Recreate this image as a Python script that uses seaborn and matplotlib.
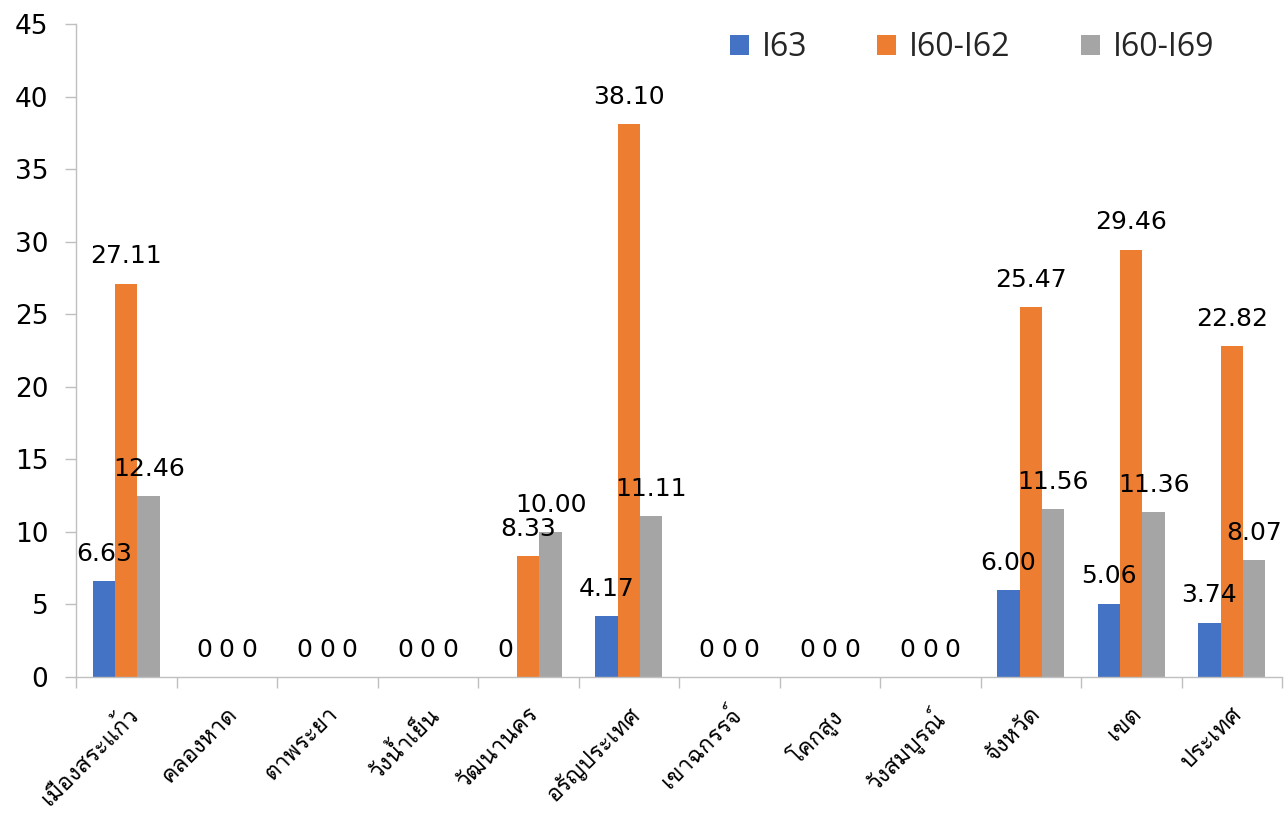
import matplotlib
matplotlib.use("Agg")
import matplotlib.pyplot as plt
from matplotlib import font_manager
from matplotlib.ft2font import FT2Font
import seaborn as sns
import pandas as pd
import numpy as np

categories = ["เมืองสระแก้ว", "คลองหาด", "ตาพระยา", "วังน้ำเย็น", "วัฒนานคร", "อรัญประเทศ",
              "เขาฉกรรจ์", "โคกสูง", "วังสมบูรณ์", "จังหวัด", "เขต", "ประเทศ"]
series_names = ["I63", "I60-I62", "I60-I69"]
i63 = [6.63, 0, 0, 0, 0, 4.17, 0, 0, 0, 6.00, 5.06, 3.74]
i60_i62 = [27.11, 0, 0, 0, 8.33, 38.10, 0, 0, 0, 25.47, 29.46, 22.82]
i60_i69 = [12.46, 0, 0, 0, 10.00, 11.11, 0, 0, 0, 11.56, 11.36, 8.07]
colors = ["#4472C4", "#ED7D31", "#A5A5A5"]
y_ticks = [0, 5, 10, 15, 20, 25, 30, 35, 40, 45]

# find a font that covers Thai
thai_font = None
for f in font_manager.fontManager.ttflist:
    try:
        cm = FT2Font(f.fname).get_charmap()
        if 0x0E01 in cm and 0x0E49 in cm:
            thai_font = f.name
            break
    except Exception:
        pass

sns.set_theme(style="white")
fam = ["DejaVu Sans"]
if thai_font:
    fam = [thai_font, "DejaVu Sans"]
plt.rcParams["font.family"] = ["DejaVu Sans"]

df = pd.DataFrame({
    "cat": categories * 3,
    "series": [series_names[0]] * 12 + [series_names[1]] * 12 + [series_names[2]] * 12,
    "value": i63 + i60_i62 + i60_i69,
})

fig = plt.figure(figsize=(12.86, 8.18), dpi=100)
ax = fig.add_axes([76 / 1286, 1 - 677 / 818, (1282 - 76) / 1286, (677 - 24) / 818])
sns.barplot(data=df, x="cat", y="value", hue="series", palette=colors, width=0.67,
            gap=0, ax=ax, errorbar=None, saturation=1, legend=True, linewidth=0)

for cont, vals in zip(ax.containers, [i63, i60_i62, i60_i69]):
    labels = ["0" if v == 0 else f"{v:.2f}" for v in vals]
    ax.bar_label(cont, labels=labels, padding=11, fontsize=18, color="black")

ax.set_ylim(0, 45)
ax.set_xlim(-0.5, 11.5)
ax.set_yticks(y_ticks)
ax.set_yticklabels([str(t) for t in y_ticks], fontsize=19, color="black")
ax.set_xlabel("")
ax.set_ylabel("")
ax.set_xticks(range(len(categories)))
ax.set_xticklabels(categories, rotation=45, ha="right", rotation_mode="anchor",
                   fontsize=16.5, family=fam, color="black")
ax.tick_params(axis="x", which="major", length=0, pad=19)
ax.set_xticks(np.arange(-0.5, 12, 1), minor=True)
ax.tick_params(axis="x", which="minor", length=8, color="#BFBFBF", width=1, bottom=True)
ax.tick_params(axis="y", length=8, color="#BFBFBF", width=1, left=True, pad=12)

for s in ["top", "right"]:
    ax.spines[s].set_visible(False)
for s in ["left", "bottom"]:
    ax.spines[s].set_color("#BFBFBF")
    ax.spines[s].set_linewidth(1)

handles, labs = ax.get_legend_handles_labels()
ax.legend(handles, labs, loc="center", bbox_to_anchor=(972 / 1286, 1 - 48 / 818),
          bbox_transform=fig.transFigure, ncol=3, frameon=False,
          prop={"family": "Open Sans", "size": 23}, handlelength=0.6, handleheight=0.6,
          handletextpad=0.4, columnspacing=2.2)

fig.savefig("out.png", dpi=100)
